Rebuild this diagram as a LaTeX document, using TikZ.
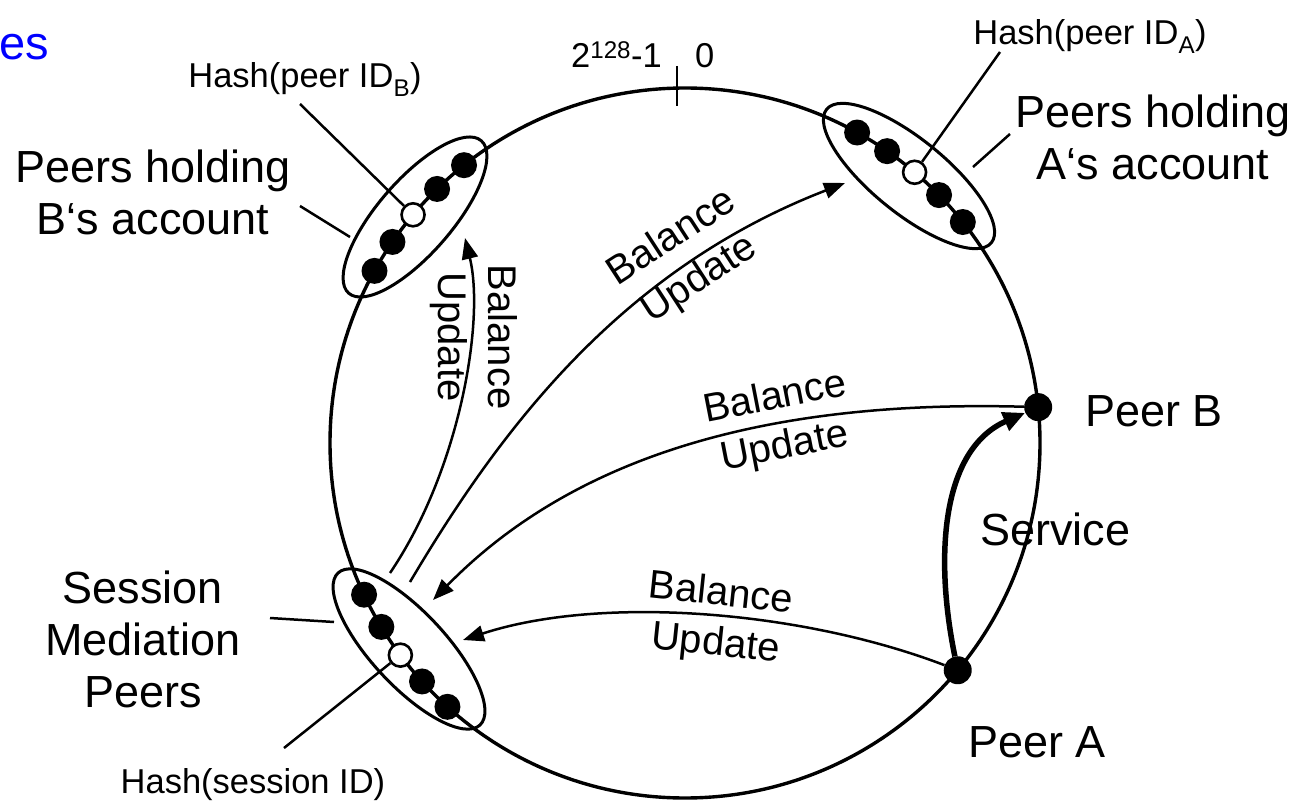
\documentclass[tikz,border=0pt]{standalone}
\usepackage{fontspec}
\setmainfont{Liberation Sans}
\usetikzlibrary{shapes.geometric,arrows.meta,calc}

\begin{document}
\begin{tikzpicture}[x=1pt,y=-1pt,
  ring/.style={line width=3.4pt},
  holder/.style={draw,ellipse,line width=3pt,inner sep=0pt,minimum height=74pt},
  fulldot/.style={circle,fill=black,inner sep=0pt,minimum size=26pt},
  opendot/.style={circle,draw=black,fill=white,line width=2.6pt,inner sep=0pt,minimum size=23pt},
  peerdot/.style={circle,fill=black,inner sep=0pt,minimum size=28pt},
  pointer/.style={line width=2.5pt},
  msg/.style={line width=2.5pt,-{Triangle[length=21pt,width=16pt]}},
  service/.style={line width=5.5pt,-{Triangle[length=22pt,width=19pt]}},
  big/.style={font=\fontsize{45}{52}\selectfont,inner sep=0pt,align=center},
  small/.style={font=\fontsize{34.5}{40}\selectfont,inner sep=0pt},
  note/.style={font=\fontsize{40}{50}\selectfont,inner sep=0pt,align=center},
]
\useasboundingbox (0,0) rectangle (1301,802);

% the identifier ring
\coordinate (C) at (685,443);
\draw[ring] (C) circle[radius=355pt];
\draw[line width=2.2pt] (677,66) -- (677,106);
\node[small,anchor=base east] (wrapHi) at (662,68) {2\textsuperscript{128}-1};
\node[small,anchor=base west] (wrapLo) at (695,68) {0};

% title fragment
\node[font=\fontsize{47}{52}\selectfont,inner sep=0pt,text=blue,anchor=base west] (title) at (-1,60) {es};

% peers on the ring
\node[peerdot] (pB) at ($(C)+(-5.8:355)$) {};
\node[peerdot] (pA) at ($(C)+(39.8:355)$) {};
\node[big,anchor=base west] (tPB) at (1085,426) {Peer B};
\node[big,anchor=base west] (tPA) at (968,757) {Peer A};

% balance update messages
\coordinate (sB) at (390,573);
\coordinate (sA) at (410,582);
\coordinate (bIn) at (465,238);
\coordinate (aIn) at (845,183);
\coordinate (sIn1) at (433,600);
\coordinate (sIn2) at (463,640);
\draw[msg] (sB) .. controls (460,470) and (485,320) .. (bIn);
\draw[msg] (sA) .. controls (500,430) and (620,270) .. (aIn);
\draw[msg] (pB) .. controls (780,400) and (580,450) .. (sIn1);
\draw[msg] (pA) .. controls (800,610) and (600,595) .. (sIn2);
\draw[service] (pA) .. controls (935,560) and (940,450) .. (pB);

\node[note,rotate=-90] (nV) at (474,337) {Balance\\Update};
\node[note,rotate=33] (nA) at (686,259) {Balance\\Update};
\node[note,rotate=11] (nB) at (780,423) {Balance\\Update};
\node[note,rotate=-6] (nP) at (718,620) {Balance\\Update};
\node[big,anchor=base west] (tSvc) at (980,545) {Service};

% replica groups
\node[holder,minimum width=202pt,rotate=49] (eB) at (415,217) {};
\node[holder,minimum width=212pt,rotate=-39] (eA) at (909,176) {};
\node[holder,minimum width=208pt,rotate=-47] (eS) at (409,649) {};

% labels and their leader lines
\node[big] (lB) at (153,192) {Peers holding\\B‘s account};
\node[big] (lA) at (1153,137) {Peers holding\\A‘s account};
\node[big] (lS) at (143,639) {Session\\Mediation\\Peers};
\coordinate (lBa) at (300,206);
\coordinate (lBb) at (350,237);
\coordinate (lAa) at (1010,134);
\coordinate (lAb) at (973,167);
\coordinate (lSa) at (270,618);
\coordinate (lSb) at (334,622);
\draw[pointer] (lBa) -- (lBb);
\draw[pointer] (lAa) -- (lAb);
\draw[pointer] (lSa) -- (lSb);

% hash positions
\node[small,anchor=base] (hB) at (305,88) {Hash(peer ID\textsubscript{B})};
\node[small,anchor=base] (hA) at (1090,45) {Hash(peer ID\textsubscript{A})};
\node[small,anchor=base] (hS) at (253,793) {Hash(session ID)};
\coordinate (hBend) at (300,104);
\coordinate (hAend) at (1000,52);
\coordinate (hSend) at (284,748);

% replica dots on the ring
\foreach \a/\n in {128.5/1,134.3/2,145.5/4,151/5}
  \node[fulldot] (b\n) at ($(C)+(-\a:355)$) {};
\foreach \a/\n in {61/1,55.3/2,44.3/4,38.5/5}
  \node[fulldot] (a\n) at ($(C)+(-\a:355)$) {};
\foreach \a/\n in {205.3/1,211.2/2,222.2/4,228/5}
  \node[fulldot] (s\n) at ($(C)+(-\a:355)$) {};
\node[opendot] (b3) at ($(C)+(-140:355)$) {};
\node[opendot] (a3) at ($(C)+(-49.7:355)$) {};
\node[opendot] (s3) at ($(C)+(-216.7:355)$) {};
\draw[pointer] (hBend) -- (b3);
\draw[pointer] (hAend) -- (a3);
\draw[pointer] (hSend) -- (s3);
\end{tikzpicture}
\end{document}
